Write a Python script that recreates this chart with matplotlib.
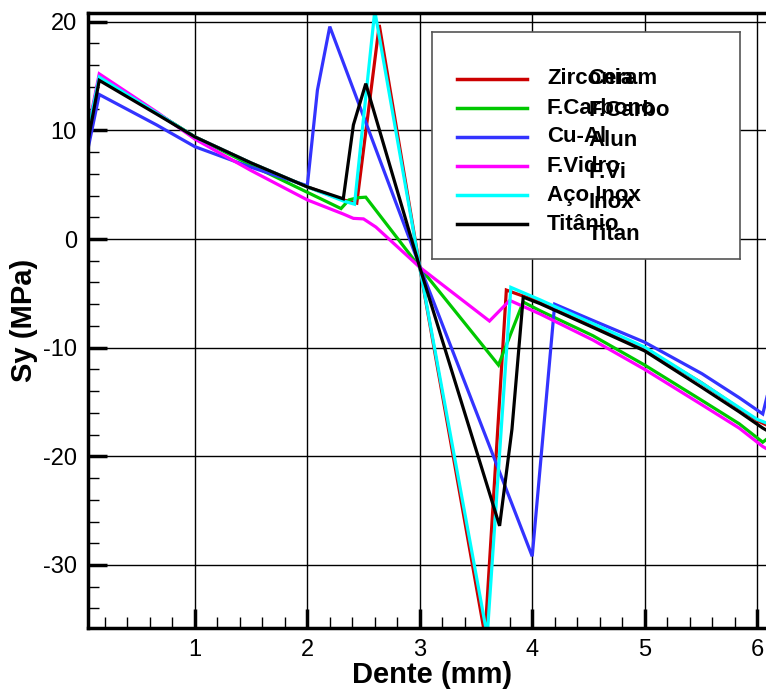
import matplotlib
matplotlib.use('Agg')
import matplotlib.pyplot as plt
from matplotlib.ticker import MultipleLocator

plt.rcParams['font.family'] = ['Liberation Sans', 'DejaVu Sans']
plt.rcParams['axes.unicode_minus'] = False

# Dados (Sy em MPa ao longo do dente)
x_zirconia = [0.05, 0.15, 0.66, 1.0, 1.5, 2.0, 2.32, 2.44, 2.64, 3.0, 3.58, 3.77, 3.85, 4.07, 4.5, 5.0, 5.5, 6.0, 6.1]
y_zirconia = [9.8, 14.9, 11.6, 9.4, 7.0, 4.8, 3.6, 3.3, 19.7, -2.6, -36.5, -4.7, -5.0, -5.8, -7.7, -10.1, -13.2, -16.7, -17.2]

x_carbono = [0.05, 0.15, 0.66, 1.0, 1.5, 2.0, 2.3, 2.37, 2.45, 2.52, 3.0, 3.70, 3.92, 4.07, 4.54, 5.0, 5.5, 5.84, 6.05, 6.1]
y_carbono = [9.8, 14.9, 11.6, 9.4, 6.8, 4.3, 2.8, 3.6, 3.8, 3.85, -2.6, -11.6, -5.8, -6.6, -8.9, -11.6, -14.8, -17.0, -18.7, -18.3]

x_cual = [0.05, 0.15, 0.66, 1.0, 1.5, 2.0, 2.09, 2.2, 3.0, 4.0, 4.2, 4.54, 5.0, 5.51, 5.84, 6.05, 6.1]
y_cual = [8.3, 13.3, 10.5, 8.5, 6.6, 4.9, 13.7, 19.55, -2.5, -29.2, -6.0, -7.5, -9.5, -12.4, -14.6, -16.1, -14.0]

x_vidro = [0.05, 0.15, 0.66, 1.0, 1.5, 2.0, 2.32, 2.41, 2.5, 2.61, 3.0, 3.62, 3.80, 4.07, 4.54, 5.0, 5.5, 5.84, 6.05, 6.1]
y_vidro = [10.0, 15.2, 11.7, 9.2, 6.3, 3.6, 2.3, 1.9, 1.85, 1.1, -2.6, -7.55, -5.65, -6.9, -9.3, -12.0, -15.2, -17.4, -19.1, -19.4]

x_inox = [0.05, 0.15, 0.66, 1.0, 1.5, 2.0, 2.32, 2.42, 2.6, 3.0, 3.6, 3.81, 4.07, 4.5, 5.0, 5.5, 6.0, 6.1]
y_inox = [9.8, 14.9, 11.6, 9.4, 7.0, 4.8, 3.5, 3.2, 21.0, -2.6, -36.5, -4.45, -5.6, -7.6, -9.95, -13.2, -16.6, -17.0]

x_titanio = [0.05, 0.15, 0.66, 1.0, 1.5, 2.0, 2.32, 2.41, 2.52, 3.0, 3.71, 3.82, 3.92, 4.07, 4.5, 5.0, 5.5, 5.84, 6.05, 6.1]
y_titanio = [9.0, 14.6, 11.5, 9.4, 7.0, 4.8, 3.7, 10.5, 14.3, -2.6, -26.4, -17.5, -5.35, -5.95, -7.95, -10.3, -13.6, -15.9, -17.4, -17.7]

nomes = ['Zirconia', 'F.Carbono', 'Cu-Al', 'F.Vidro', 'Aço Inox', 'Titânio']
nomes_2 = ['Ceram', 'F.Carbo', 'Alun', 'F.Vi', 'Inox', 'Titan']
cores = ['#cc0000', '#00c800', '#3333ff', '#ff00ff', '#00ffff', '#000000']

series = [
    (x_zirconia, y_zirconia),
    (x_carbono, y_carbono),
    (x_cual, y_cual),
    (x_vidro, y_vidro),
    (x_inox, y_inox),
    (x_titanio, y_titanio),
]

W, H = 766, 690
fig = plt.figure(figsize=(W / 100, H / 100), dpi=100)

# eixo principal (lado direito cortado pela borda da figura, como no original)
ax = fig.add_axes([88 / W, 1 - 628 / H, 686 / W, 615 / H])
for (xs, ys), cor in zip(series, cores):
    ax.plot(xs, ys, color=cor, linewidth=2.3, solid_joinstyle='miter')

ax.set_xlim(0.05, 6.15)
ax.set_ylim(-35.8, 20.8)
ax.xaxis.set_major_locator(MultipleLocator(1))
ax.xaxis.set_minor_locator(MultipleLocator(0.2))
ax.yaxis.set_major_locator(MultipleLocator(10))
ax.yaxis.set_minor_locator(MultipleLocator(2))
ax.grid(True, which='major', color='black', linewidth=1.0)
ax.set_axisbelow(True)

ax.tick_params(which='major', direction='in', length=14, width=2.5, labelsize=17, pad=8)
ax.tick_params(which='minor', direction='in', length=8, width=1.0)
for lado in ['left', 'bottom', 'top', 'right']:
    ax.spines[lado].set_linewidth(2.5)

ax.set_xlabel('Dente (mm)', fontsize=21, fontweight='bold')
ax.set_ylabel('Sy (MPa)', fontsize=21, fontweight='bold')
ax.xaxis.set_label_coords((432 - 88) / 686, -(661 - 628) / 615)
ax.yaxis.set_label_coords(-(88 - 38) / 686, (628 - 320) / 615)

# legenda desenhada à mão (caixa com textos sobrepostos)
lg = fig.add_axes([432 / W, 1 - 259 / H, 308 / W, 227 / H])
lg.set_xlim(0, 308)
lg.set_ylim(227, 0)
lg.set_xticks([])
lg.set_yticks([])
for lado in lg.spines.values():
    lado.set_color('#555555')
    lado.set_linewidth(1.2)

for i, (nome, nome2, cor) in enumerate(zip(nomes, nomes_2, cores)):
    yy = 47 + 29 * i
    lg.plot([25, 95], [yy, yy], color=cor, linewidth=2.5)
    lg.text(115, yy, nome, fontsize=16, fontweight='bold', va='center', ha='left')
    lg.text(156, 47 + 31 * i, nome2, fontsize=16, fontweight='bold', va='center', ha='left')

fig.savefig('out.png', dpi=100)
